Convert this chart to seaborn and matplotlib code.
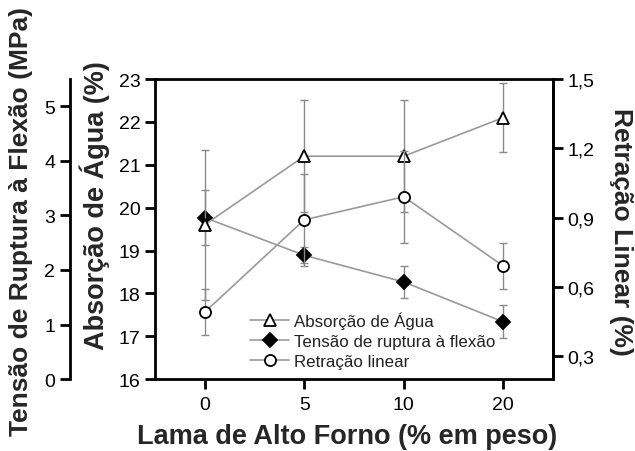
import numpy as np
import pandas as pd
import matplotlib
matplotlib.use("Agg")
import matplotlib.pyplot as plt
import seaborn as sns
from matplotlib.ticker import FuncFormatter

# ---- data ----
categories = ["0", "5", "10", "20"]
absorcao = [19.6, 21.2, 21.2, 22.1]
absorcao_err = [1.75, 1.3, 1.3, 0.8]
tensao = [2.96, 2.27, 1.78, 1.05]
tensao_err = [0.5, 0.15, 0.3, 0.3]
retracao = [0.49, 0.89, 0.99, 0.69]
retracao_err = [0.1, 0.2, 0.2, 0.1]

abs_ticks = [16, 17, 18, 19, 20, 21, 22, 23]
ten_ticks = [0, 1, 2, 3, 4, 5]
ret_ticks = [0.3, 0.6, 0.9, 1.2, 1.5]

sns.set_style("ticks")
plt.rcParams['font.family'] = ['Liberation Sans', 'DejaVu Sans']

xpos = np.arange(len(categories))
df = pd.DataFrame({"x": xpos, "abs": absorcao, "ten": tensao, "ret": retracao})

fig = plt.figure(figsize=(6.35, 4.52), dpi=100)
ax = fig.add_axes([0.244, 0.159, 0.627, 0.664])
ax_r = ax.twinx()
ax_t = ax.twinx()

LINE = "#9a9a9a"
ERR = "#8a8a8a"
SPW = 2.0
TLS = 14
LBS = 19.5

def series(a, col, err, marker, fc, label, ms):
    a.errorbar(df["x"], df[col], yerr=err, fmt="none", ecolor=ERR,
               elinewidth=1.0, capsize=3, capthick=1.0, zorder=2)
    sns.lineplot(data=df, x="x", y=col, ax=a, color=LINE, lw=1.2,
                 marker=marker, markersize=ms, markerfacecolor=fc,
                 markeredgecolor="black", markeredgewidth=1.3,
                 label=label, zorder=3)
    if a.get_legend() is not None:
        a.get_legend().remove()

series(ax, "abs", absorcao_err, "^", "white", "Absorção de Água", 8)
series(ax_t, "ten", tensao_err, "D", "black", "Tensão de ruptura à flexão", 7)
series(ax_r, "ret", retracao_err, "o", "white", "Retração linear", 8)

# main axis
ax.set_xlim(-0.5, 3.5)
ax.set_ylim(16, 23)
ax.set_yticks(abs_ticks)
ax.set_xticks(xpos)
ax.set_xticklabels(categories)
for s in ax.spines.values():
    s.set_linewidth(SPW)
    s.set_color("black")
ax.tick_params(axis="both", direction="out", length=7, width=SPW,
               labelsize=TLS, colors="black")
ax.tick_params(axis="x", pad=5)
ax.set_xlabel("Lama de Alto Forno (% em peso)", fontsize=LBS, fontweight="bold",
              va="center")
ax.xaxis.set_label_coords(0.482, -0.19)
ax.set_ylabel("Absorção de Água (%)", fontsize=LBS, fontweight="bold", va="center")
ax.yaxis.set_label_coords(-0.15, 0.58)

# right axis
ax_r.set_ylim(0.2, 1.5)
ax_r.set_yticks(ret_ticks)
ax_r.yaxis.set_major_formatter(FuncFormatter(lambda v, p: f"{v:.1f}".replace(".", ",")))
for k, s in ax_r.spines.items():
    s.set_visible(k == "right")
    s.set_linewidth(SPW)
    s.set_color("black")
ax_r.tick_params(axis="y", direction="out", length=7, width=SPW,
                 labelsize=TLS, colors="black")
ax_r.set_ylabel("Retração Linear (%)", fontsize=LBS - 0.5, fontweight="bold",
                rotation=-90, va="center")
ax_r.yaxis.set_label_coords(1.17, 0.493)

# outer-left axis
ax_t.set_ylim(0, 5.5)
ax_t.set_yticks(ten_ticks)
ax_t.spines["left"].set_position(("axes", -0.214))
ax_t.yaxis.set_ticks_position("left")
ax_t.yaxis.set_label_position("left")
for k, s in ax_t.spines.items():
    s.set_visible(k == "left")
    s.set_linewidth(SPW)
    s.set_color("black")
ax_t.tick_params(axis="y", direction="out", length=7, width=SPW,
                 labelsize=TLS, colors="black")
ax_t.set_ylabel("Tensão de Ruptura à Flexão (MPa)", fontsize=19,
                fontweight="bold", va="center")
ax_t.yaxis.set_label_coords(-0.336, 0.527)

ax.set_zorder(ax_t.get_zorder() + 1)
ax.patch.set_visible(False)
ax_r.set_zorder(ax.get_zorder() + 1)

handles, labels = [], []
for a in (ax, ax_t, ax_r):
    h, l = a.get_legend_handles_labels()
    handles += h
    labels += l
leg = ax_r.legend(handles, labels, loc="lower left", bbox_to_anchor=(0.21, -0.005),
                  frameon=False, fontsize=12.2, handlelength=2.3,
                  handletextpad=0.3, labelspacing=0.28, borderaxespad=0.3)
for t in leg.get_texts():
    t.set_color("#222222")

fig.savefig("out.png", dpi=100)
